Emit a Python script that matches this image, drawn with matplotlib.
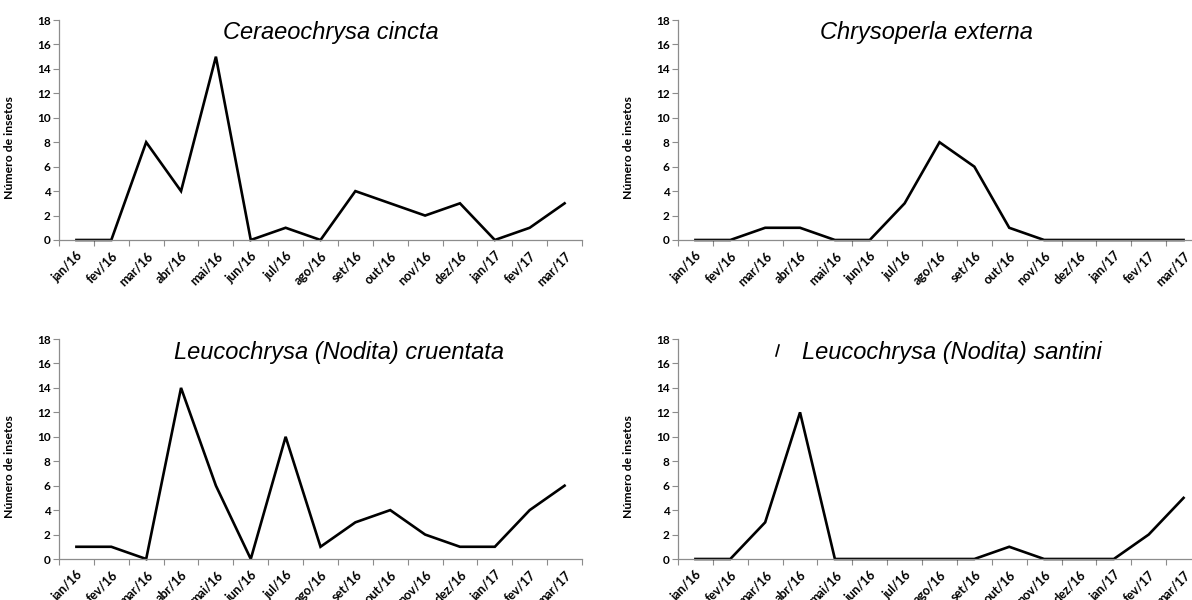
import matplotlib
matplotlib.use("Agg")
import matplotlib.pyplot as plt
from matplotlib.lines import Line2D

meses = ["jan/16", "fev/16", "mar/16", "abr/16", "mai/16", "jun/16", "jul/16",
         "ago/16", "set/16", "out/16", "nov/16", "dez/16", "jan/17", "fev/17", "mar/17"]

ceraeochrysa = [0, 0, 8, 4, 15, 0, 1, 0, 4, 3, 2, 3, 0, 1, 3]
chrysoperla = [0, 0, 1, 1, 0, 0, 3, 8, 6, 1, 0, 0, 0, 0, 0]
cruentata = [1, 1, 0, 14, 6, 0, 10, 1, 3, 4, 2, 1, 1, 4, 6]
santini = [0, 0, 3, 12, 0, 0, 0, 0, 0, 1, 0, 0, 0, 2, 5]

titulos = ["Ceraeochrysa cincta", "Chrysoperla externa",
           "Leucochrysa (Nodita) cruentata", "Leucochrysa (Nodita) santini"]
series = [ceraeochrysa, chrysoperla, cruentata, santini]

W, H = 1192, 600
fig = plt.figure(figsize=(W / 100, H / 100), dpi=100)

# posicoes dos paineis em pixels: (esquerda, topo do eixo)
paineis = [(59, 20), (678, 20), (59, 339), (678, 339)]
largura, altura = 523, 220
pos_titulo = [(0.52, 0.945), (0.475, 0.945), (0.535, 0.94), (0.524, 0.94)]

cinza = "#8c8c8c"
fonte_eixo = "Lato"

for (px, py), y, titulo, (tx, ty) in zip(paineis, series, titulos, pos_titulo):
    ax = fig.add_axes([px / W, 1 - (py + altura) / H, largura / W, altura / H])
    x = list(range(len(meses)))
    ax.plot(x, y, color="black", lw=1.9, solid_joinstyle="miter", clip_on=False)
    ax.set_xlim(-0.5, len(meses) - 0.5)
    ax.set_ylim(0, 18)
    ax.set_yticks(range(0, 19, 2))
    ax.set_yticklabels([str(v) for v in range(0, 19, 2)], fontfamily=fonte_eixo,
                       fontweight="bold", fontsize=8.5)
    ax.set_xticks([i - 0.5 for i in range(len(meses) + 1)])
    ax.set_xticklabels([])
    ax.set_xticks(x, minor=True)
    ax.set_xticklabels(meses, minor=True, rotation=45, ha="right",
                       rotation_mode="anchor", fontfamily=fonte_eixo,
                       fontweight="bold", fontsize=9)
    ax.tick_params(axis="x", which="major", length=4, width=0.8, color=cinza, direction="out")
    ax.tick_params(axis="x", which="minor", length=0, pad=7)
    ax.tick_params(axis="y", length=4, width=0.8, color=cinza, direction="out", pad=2)
    for s in ["top", "right"]:
        ax.spines[s].set_visible(False)
    for s in ["left", "bottom"]:
        ax.spines[s].set_color(cinza)
        ax.spines[s].set_linewidth(0.9)
    ax.set_ylabel("Número de insetos", fontfamily=fonte_eixo, fontweight="bold", fontsize=8.8)
    ax.yaxis.set_label_coords(-0.084, 0.42)
    ax.text(tx, ty, titulo, transform=ax.transAxes, ha="center", va="center",
            fontfamily="Liberation Sans", fontstyle="italic", fontsize=17)

# pequeno traço perdido perto do título do último painel
fig.add_artist(Line2D([776 / W, 779 / W], [1 - 356 / H, 1 - 345 / H], color="black", lw=1.2))

fig.savefig("out.png", dpi=100)
